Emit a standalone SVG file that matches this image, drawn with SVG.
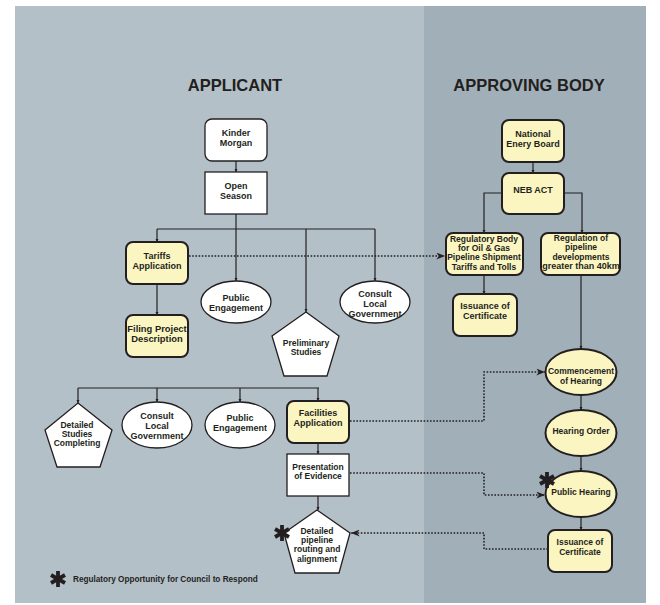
<svg xmlns="http://www.w3.org/2000/svg" width="660" height="605" viewBox="0 0 660 605">
<defs>
<style>
text{font-family:"Liberation Sans",Arial,sans-serif;font-weight:bold;fill:#231f20;text-anchor:middle;font-size:9px}
.title{font-size:16.5px}
.sm{font-size:8.5px}
.w{fill:#ffffff;stroke:#231f20;stroke-width:1.3}
.y{fill:#fbf5c1;stroke:#231f20;stroke-width:2}
.c{fill:none;stroke:#231f20;stroke-width:1.2;marker-end:url(#sa)}
.cn{fill:none;stroke:#231f20;stroke-width:1.2}
.d{fill:none;stroke:#231f20;stroke-width:1.6;stroke-dasharray:1.6 1.6;marker-end:url(#da)}
.ast{stroke:#231f20;stroke-width:3.8;stroke-linecap:butt}
</style>
<marker id="sa" viewBox="0 0 6 6" refX="6" refY="3" markerWidth="3.5" markerHeight="3.5" markerUnits="userSpaceOnUse" orient="auto"><path d="M0,0 L6,3 L0,6 z" fill="#231f20"/></marker>
<marker id="da" viewBox="0 0 10 8" refX="10" refY="4" markerWidth="9" markerHeight="7" markerUnits="userSpaceOnUse" orient="auto"><path d="M0,0 L10,4 L0,8 L3,4 z" fill="#231f20"/></marker>
<g id="asterisk"><line class="ast" x1="0" y1="-8" x2="0" y2="8"/><line class="ast" x1="-7" y1="-4" x2="7" y2="4"/><line class="ast" x1="-7" y1="4" x2="7" y2="-4"/></g>
</defs>
<rect x="15" y="6" width="409" height="597" fill="#b4c0c8"/>
<rect x="424" y="6" width="222" height="597" fill="#a1b0b8"/>
<text class="title" x="235" y="91">APPLICANT</text>
<text class="title" x="529" y="91">APPROVING BODY</text>

<g id="connectors">
<path class="c" d="M236,161 V172"/>
<path class="c" d="M236,214 V281"/>
<path class="cn" d="M157,229 H375"/>
<path class="c" d="M157,229 V242"/>
<path class="c" d="M306,229 V312"/>
<path class="c" d="M375,229 V281"/>
<path class="c" d="M157,284 V315"/>
<path class="cn" d="M78,388 H319"/>
<path class="c" d="M78,388 V403"/>
<path class="c" d="M157,388 V402"/>
<path class="c" d="M240,388 V402"/>
<path class="c" d="M318,388 V401"/>
<path class="c" d="M318,443 V454"/>
<path class="c" d="M318,496 V510"/>
<path class="c" d="M533,162 V173"/>
<path class="c" d="M501,193 H484 V233"/>
<path class="c" d="M564,193 H582 V233"/>
<path class="c" d="M484,275 V294"/>
<path class="c" d="M581,275 V349"/>
<path class="c" d="M581,395 V410"/>
<path class="c" d="M581,456 V471"/>
<path class="c" d="M581,517 V530"/>
<path class="d" d="M189,256 H445"/>
<path class="d" d="M350,421 H484 V372 H545"/>
<path class="d" d="M350,473 H484 V495 H545"/>
<path class="d" d="M548,549 H484 V533 H351"/>
</g>

<g id="kinder-morgan"><rect class="w" x="205" y="119" width="62" height="42" rx="7"/><text x="236" y="136">Kinder</text><text x="236" y="146">Morgan</text></g>
<g id="open-season"><rect class="w" x="205" y="172" width="62" height="42"/><text x="236" y="189">Open</text><text x="236" y="199">Season</text></g>
<g id="tariffs-application"><rect class="y" x="126" y="242" width="62" height="42" rx="7"/><text x="157" y="259">Tariffs</text><text x="157" y="269">Application</text></g>
<g id="filing-project"><rect class="y" x="126" y="315" width="62" height="42" rx="7"/><text x="157" y="332" style="font-size:9.4px">Filing Project</text><text x="157" y="342" style="font-size:9.4px">Description</text></g>
<g id="public-engagement-1"><ellipse class="w" cx="236" cy="302" rx="35" ry="21"/><text x="236" y="301">Public</text><text x="236" y="311">Engagement</text></g>
<g id="preliminary-studies"><polygon class="w" points="306,312 339,336 327,376 284,376 272,336"/><text class="sm" x="306" y="346">Preliminary</text><text class="sm" x="306" y="355">Studies</text></g>
<g id="consult-local-1"><ellipse class="w" cx="375" cy="302" rx="35" ry="21"/><text x="375" y="297">Consult</text><text x="375" y="307">Local</text><text x="375" y="317">Government</text></g>

<g id="detailed-studies"><polygon class="w" points="78,403 112,430 100,467 57,467 45,430"/><text class="sm" x="77" y="428">Detailed</text><text class="sm" x="77" y="437">Studies</text><text class="sm" x="77" y="446">Completing</text></g>
<g id="consult-local-2"><ellipse class="w" cx="157" cy="425" rx="35" ry="23"/><text x="157" y="419">Consult</text><text x="157" y="429">Local</text><text x="157" y="439">Government</text></g>
<g id="public-engagement-2"><ellipse class="w" cx="240" cy="425" rx="35" ry="23"/><text x="240" y="421">Public</text><text x="240" y="431">Engagement</text></g>
<g id="facilities-application"><rect class="y" x="287" y="401" width="62" height="42" rx="7"/><text x="318" y="416">Facilities</text><text x="318" y="426">Application</text></g>
<g id="presentation-evidence"><rect class="w" x="287" y="454" width="62" height="42"/><text class="sm" x="318" y="470">Presentation</text><text class="sm" x="318" y="479">of Evidence</text></g>
<g id="detailed-pipeline"><polygon class="w" points="317,510 350,533 339,573 295,573 284,533"/><text class="sm" x="317" y="534">Detailed</text><text class="sm" x="317" y="543">pipeline</text><text class="sm" x="317" y="552">routing and</text><text class="sm" x="317" y="562">alignment</text><use href="#asterisk" x="282" y="533"/></g>

<g id="national-energy-board"><rect class="y" x="502" y="120" width="62" height="42" rx="7"/><text x="533" y="137">National</text><text x="533" y="147">Enery Board</text></g>
<g id="neb-act"><rect class="y" x="502" y="173" width="62" height="41" rx="7"/><text x="533" y="193">NEB ACT</text></g>
<g id="regulatory-body"><rect class="y" x="446" y="233" width="77" height="42" rx="7"/><text class="sm" x="484" y="242">Regulatory Body</text><text class="sm" x="484" y="251">for Oil &amp; Gas</text><text class="sm" x="484" y="260">Pipeline Shipment</text><text class="sm" x="484" y="270">Tariffs and Tolls</text></g>
<g id="regulation-pipeline"><rect class="y" x="541" y="233" width="79" height="42" rx="7"/><text class="sm" x="581" y="241">Regulation of</text><text class="sm" x="581" y="250">pipeline</text><text class="sm" x="581" y="260">developments</text><text x="581" y="269">greater than 40km</text></g>
<g id="issuance-1"><rect class="y" x="453" y="294" width="64" height="42" rx="7"/><text x="485" y="309">Issuance of</text><text x="485" y="319">Certificate</text></g>
<g id="commencement"><ellipse class="y" cx="581" cy="372" rx="35.5" ry="23"/><text class="sm" x="581" y="374">Commencement</text><text class="sm" x="581" y="384">of Hearing</text></g>
<g id="hearing-order"><ellipse class="y" cx="581" cy="433" rx="35.5" ry="23"/><text class="sm" x="581" y="434">Hearing Order</text></g>
<g id="public-hearing"><ellipse class="y" cx="581" cy="494" rx="35.5" ry="23"/><text class="sm" x="581" y="495">Public Hearing</text><use href="#asterisk" x="547" y="480"/></g>
<g id="issuance-2"><rect class="y" x="548" y="530" width="64" height="42" rx="7"/><text class="sm" x="580" y="545">Issuance of</text><text class="sm" x="580" y="555">Certificate</text></g>

<g id="legend"><use href="#asterisk" x="58" y="579"/><text x="73" y="582" style="font-size:8.2px;text-anchor:start">Regulatory Opportunity for Council to Respond</text></g>
</svg>
